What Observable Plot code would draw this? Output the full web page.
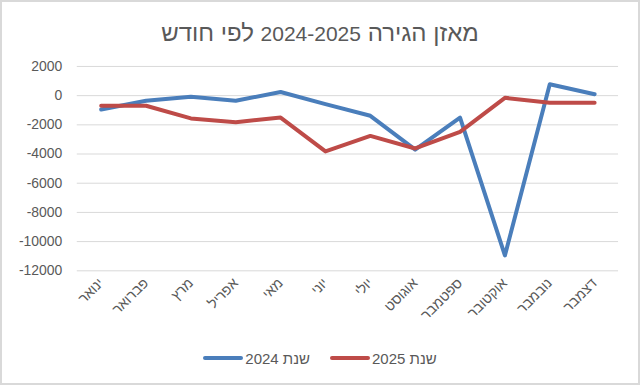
<!DOCTYPE html>
<html>
<head>
<meta charset="utf-8">
<script src="https://cdn.jsdelivr.net/npm/d3@7"></script>
<script src="https://cdn.jsdelivr.net/npm/@observablehq/plot@0.6"></script>
<style>
  html, body { margin: 0; padding: 0; background: #fff; }
  #chart {
    position: relative; width: 640px; height: 385px; box-sizing: border-box;
    border: 2px solid #d9d9d9; background: #fff; overflow: hidden;
    font-family: "Liberation Sans", Arial, sans-serif; color: #595959;
  }
  #title {
    position: absolute; left: 0; top: 0; width: 636px; height: 48px;
    text-align: center; font-size: 24px; line-height: 24px; padding-top: 19px; box-sizing: border-box;
  }
  #title .num { font-size: 21px; }
  #plot { position: absolute; left: -2px; top: 48px; }
  #legend {
    position: absolute; left: 0; top: 346px; width: 636px; height: 20px;
    display: flex; justify-content: center; align-items: center; gap: 20px; font-size: 15px;
  }
  .item { display: flex; align-items: center; gap: 2px; }
  .item span { direction: rtl; unicode-bidi: isolate; }
</style>
</head>
<body>
<div id="chart">
  <div id="title" dir="rtl">מאזן הגירה <span class="num">2024-2025</span> לפי חודש</div>
  <div id="plot"></div>
  <div id="legend"></div>
</div>
<script>
const months = ["ינואר", "פברואר", "מרץ", "אפריל", "מאי", "יוני", "יולי", "אוגוסט", "ספטמבר", "אוקטובר", "נובמבר", "דצמבר"];
const series2024 = [-950, -350, -70, -350, 250, -580, -1380, -3700, -1500, -10950, 780, 100];
const series2025 = [-700, -690, -1560, -1820, -1500, -3820, -2760, -3620, -2480, -150, -480, -480];
const seriesNames = ["שנת 2024", "שנת 2025"];
const seriesColors = ["#4a7ebb", "#be4b48"];
const yTicks = [2000, 0, -2000, -4000, -6000, -8000, -10000, -12000];

const rows = [];
[series2024, series2025].forEach((vals, s) => {
  vals.forEach((v, i) => rows.push({ month: months[i], value: v, series: seriesNames[s] }));
});

const plot = Plot.plot({
  width: 640,
  height: 292,
  marginTop: 16,
  marginBottom: 71,
  marginLeft: 77,
  marginRight: 20,
  style: { fontFamily: "'Liberation Sans', Arial, sans-serif", fontSize: "14px", color: "#595959", background: "transparent" },
  x: { type: "point", domain: months, padding: 0.5, label: null },
  y: { domain: [-12000, 2000], label: null },
  color: { domain: seriesNames, range: seriesColors },
  marks: [
    Plot.gridY(yTicks, { stroke: "#d9d9d9", strokeOpacity: 1, strokeWidth: 1 }),
    Plot.axisY(yTicks, { tickSize: 0, tickPadding: 15, tickFormat: d => String(d), label: null, fill: "#595959", fontSize: 14 }),
    Plot.axisX({ tickSize: 0, tickRotate: -45, tickPadding: 10, label: null, fill: "#595959", fontSize: 14 }),
    Plot.lineY(rows, { x: "month", y: "value", z: "series", stroke: "series", strokeWidth: 4, strokeLinejoin: "round", strokeLinecap: "round" })
  ]
});
document.getElementById("plot").appendChild(plot);

const legend = document.getElementById("legend");
seriesNames.forEach((name, i) => {
  const item = document.createElement("div");
  item.className = "item";
  item.innerHTML = `<svg width="40" height="8"><line x1="2" y1="4" x2="38" y2="4" stroke="${seriesColors[i]}" stroke-width="4" stroke-linecap="round"/></svg><span>${name}</span>`;
  legend.appendChild(item);
});
</script>
</body>
</html>
